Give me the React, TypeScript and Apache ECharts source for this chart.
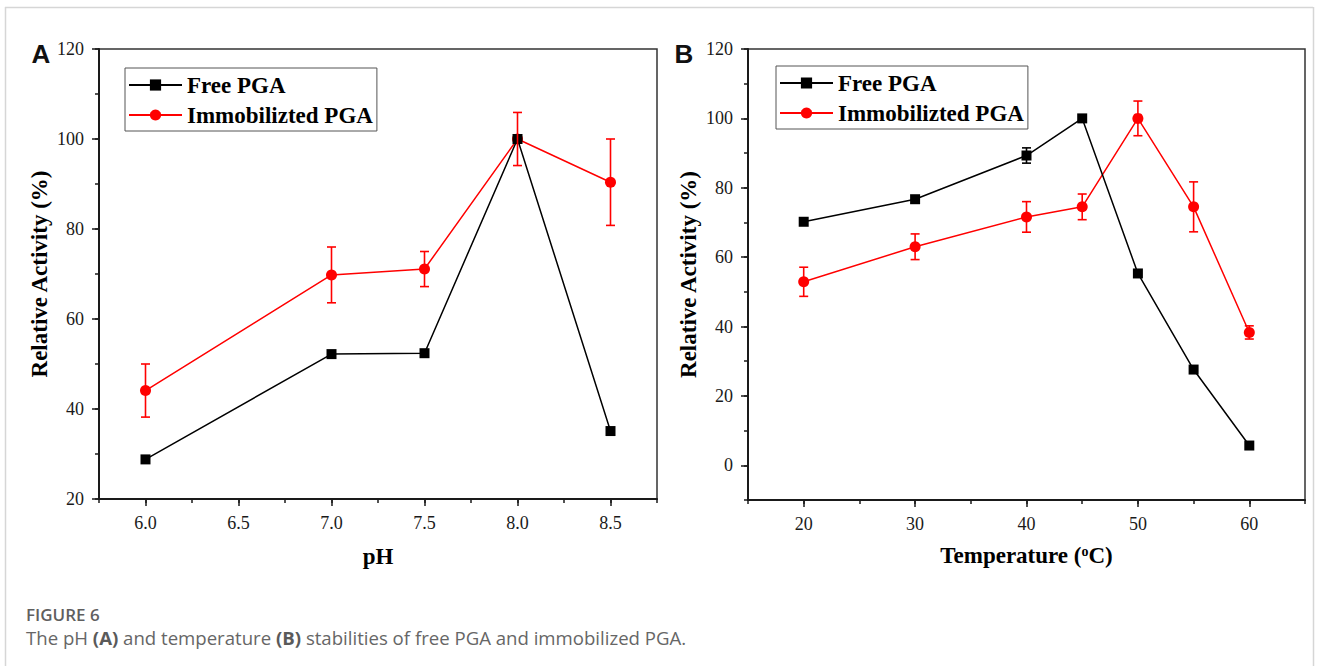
import React, { useEffect, useRef } from "react";
import * as echarts from "echarts";

// ---- data -------------------------------------------------------------
const phValues = [6.0, 7.0, 7.5, 8.0, 8.5];
const phFree = [28.8, 52.2, 52.4, 100, 35.1];
const phImmob = [44.1, 69.8, 71.1, 100, 90.4];
const phImmobErr = [5.9, 6.2, 3.9, 5.9, 9.6];

const tempValues = [20, 30, 40, 45, 50, 55, 60];
const tempFree = [70.2, 76.7, 89.3, 100, 55.3, 27.6, 5.7];
const tempFreeErr = [0, 0, 2.2, 0, 0, 0, 0];
const tempImmob = [52.9, 63.0, 71.6, 74.5, 100, 74.5, 38.3];
const tempImmobErr = [4.2, 3.7, 4.4, 3.7, 5.0, 7.2, 1.9];

const phTicks = [6.0, 6.5, 7.0, 7.5, 8.0, 8.5];
const tempTicks = [20, 30, 40, 50, 60];
const activityTicksA = [20, 40, 60, 80, 100, 120];
const activityTicksB = [0, 20, 40, 60, 80, 100, 120];

const FREE = "Free PGA";
const IMMOB = "Immobilizted PGA";

// ---- styling helpers --------------------------------------------------
const SERIF = '"Liberation Serif", "Times New Roman", serif';
const SANS = '"Liberation Sans", Arial, sans-serif';
const CAPTION_FONT = '"Open Sans", "Noto Sans", sans-serif';
const INK = "#1a1a1a";

const nameStyle = { fontFamily: SERIF, fontWeight: "bold", fontSize: 23, color: "#000" };
const labelStyle = { fontFamily: SERIF, fontSize: 18, color: INK };

function majorAxis(gridIndex: number, min: number, max: number, ticks: number[], fmt: (v: number) => string, extra: any) {
  return {
    type: "value",
    gridIndex,
    min,
    max,
    axisLine: { show: true, onZero: false, lineStyle: { color: INK, width: 2 } },
    axisTick: { show: true, customValues: ticks, length: 7, lineStyle: { color: INK, width: 1.5 } },
    axisLabel: { customValues: ticks, formatter: fmt, margin: 15, ...labelStyle },
    splitLine: { show: false },
    nameLocation: "middle",
    nameTextStyle: nameStyle,
    ...extra,
  };
}

function minorAxis(gridIndex: number, min: number, max: number, interval: number, position: string) {
  return {
    type: "value",
    gridIndex,
    min,
    max,
    interval,
    position,
    axisLine: { show: false, onZero: false },
    axisTick: { show: true, length: 4, lineStyle: { color: INK, width: 1.5 } },
    axisLabel: { show: false },
    splitLine: { show: false },
  };
}

function errorBars(xIdx: number, yIdx: number, xs: number[], ys: number[], errs: number[], color: string) {
  return {
    type: "custom",
    xAxisIndex: xIdx,
    yAxisIndex: yIdx,
    silent: true,
    z: 4,
    data: xs.map((x, i) => [x, ys[i], errs[i]]).filter((d) => d[2] > 0),
    renderItem: (params: any, api: any) => {
      const x = api.value(0);
      const y = api.value(1);
      const e = api.value(2);
      const hi = api.coord([x, y + e]);
      const lo = api.coord([x, y - e]);
      const half = 4.5;
      const style = { stroke: color, lineWidth: 1.6 };
      return {
        type: "group",
        children: [
          { type: "line", shape: { x1: hi[0], y1: hi[1], x2: lo[0], y2: lo[1] }, style },
          { type: "line", shape: { x1: hi[0] - half, y1: hi[1], x2: hi[0] + half, y2: hi[1] }, style },
          { type: "line", shape: { x1: lo[0] - half, y1: lo[1], x2: lo[0] + half, y2: lo[1] }, style },
        ],
      };
    },
  };
}

function lineSeries(name: string, xIdx: number, yIdx: number, xs: number[], ys: number[], color: string, symbol: string, size: number, z: number) {
  return {
    type: "line",
    name,
    xAxisIndex: xIdx,
    yAxisIndex: yIdx,
    data: xs.map((x, i) => [x, ys[i]]),
    symbol,
    symbolSize: size,
    showSymbol: true,
    silent: true,
    z,
    itemStyle: { color },
    lineStyle: { color, width: 1.5 },
    emphasis: { disabled: true },
  };
}

function legendBox(left: number, top: number) {
  return {
    left,
    top,
    orient: "vertical",
    data: [FREE, IMMOB],
    itemWidth: 53,
    itemHeight: 14,
    itemGap: 6,
    padding: [5, 4, 4, 3],
    borderColor: "#555",
    borderWidth: 1,
    selectedMode: false,
    textStyle: { fontFamily: SERIF, fontWeight: "bold", fontSize: 23, color: "#000", lineHeight: 24 },
  };
}

export default function App() {
  const ref = useRef<HTMLDivElement>(null);

  useEffect(() => {
    if (!ref.current) return;
    const chart = echarts.init(ref.current, undefined, { renderer: "svg" });

    const option: any = {
      animation: false,
      backgroundColor: "#ffffff",
      grid: [
        { left: 99, top: 49, width: 558, height: 450, show: true, borderColor: "#333", borderWidth: 1.5, backgroundColor: "transparent" },
        { left: 748, top: 49, width: 557, height: 451, show: true, borderColor: "#333", borderWidth: 1.5, backgroundColor: "transparent" },
      ],
      xAxis: [
        majorAxis(0, 5.75, 8.75, phTicks, (v) => v.toFixed(1), { position: "bottom", name: "pH", nameGap: 46 }),
        minorAxis(0, 5.75, 8.75, 0.25, "bottom"),
        majorAxis(1, 15, 65, tempTicks, (v) => String(v), {
          position: "bottom",
          name: "{t|Temperature (}{s|o}{t|C)}",
          nameGap: 44,
          nameTextStyle: {
            ...nameStyle,
            rich: {
              t: { fontFamily: SERIF, fontWeight: "bold", fontSize: 23, color: "#000" },
              s: { fontFamily: SERIF, fontWeight: "bold", fontSize: 14, color: "#000", verticalAlign: "top", padding: [0, 0, 9, 0] },
            },
          },
        }),
        minorAxis(1, 15, 65, 5, "bottom"),
      ],
      yAxis: [
        majorAxis(0, 20, 120, activityTicksA, (v) => String(v), { position: "left", name: "Relative Activity (%)", nameGap: 48 }),
        minorAxis(0, 20, 120, 10, "left"),
        majorAxis(1, -10, 120, activityTicksB, (v) => String(v), { position: "left", name: "Relative Activity (%)", nameGap: 48 }),
        minorAxis(1, -10, 120, 10, "left"),
      ],
      legend: [legendBox(125, 68), legendBox(776, 66)],
      series: [
        lineSeries(IMMOB, 0, 0, phValues, phImmob, "#ff0000", "circle", 11, 2),
        lineSeries(FREE, 0, 0, phValues, phFree, "#000000", "rect", 10, 3),
        errorBars(0, 0, phValues, phImmob, phImmobErr, "#ff0000"),

        lineSeries(IMMOB, 2, 2, tempValues, tempImmob, "#ff0000", "circle", 11, 2),
        lineSeries(FREE, 2, 2, tempValues, tempFree, "#000000", "rect", 10, 3),
        errorBars(2, 2, tempValues, tempImmob, tempImmobErr, "#ff0000"),
        errorBars(2, 2, tempValues, tempFree, tempFreeErr, "#000000"),
      ],
      graphic: [
        // page frame
        { type: "line", silent: true, shape: { x1: 5, y1: 7.5, x2: 1313, y2: 7.5 }, style: { stroke: "#d6d6d6", lineWidth: 1.5 } },
        { type: "line", silent: true, shape: { x1: 5.5, y1: 7, x2: 5.5, y2: 666 }, style: { stroke: "#d6d6d6", lineWidth: 1.5 } },
        { type: "line", silent: true, shape: { x1: 1313.5, y1: 7, x2: 1313.5, y2: 666 }, style: { stroke: "#d6d6d6", lineWidth: 1.5 } },
        // panel letters
        { type: "text", silent: true, x: 41, y: 54, style: { text: "A", font: `bold 26px ${SANS}`, fill: "#111", align: "center", verticalAlign: "middle" } },
        { type: "text", silent: true, x: 684, y: 54, style: { text: "B", font: `bold 26px ${SANS}`, fill: "#111", align: "center", verticalAlign: "middle" } },
        // caption
        { type: "text", silent: true, x: 26, y: 614, style: { text: "FIGURE 6", font: `600 17px ${CAPTION_FONT}`, fill: "#5f5f5f", verticalAlign: "middle" } },
        {
          type: "text",
          silent: true,
          x: 26,
          y: 637,
          style: {
            text: "The pH {b|(A)} and temperature {b|(B)} stabilities of free PGA and immobilized PGA.",
            font: `18.6px ${CAPTION_FONT}`,
            fill: "#666666",
            verticalAlign: "middle",
            rich: { b: { fontFamily: CAPTION_FONT, fontSize: 18.6, fontWeight: "bold", fill: "#5a5a5a" } },
          },
        },
      ],
    };

    chart.setOption(option);
    return () => chart.dispose();
  }, []);

  return <div ref={ref} style={{ position: "fixed", left: 0, top: 0, width: 1319, height: 666, background: "#fff" }} />;
}
